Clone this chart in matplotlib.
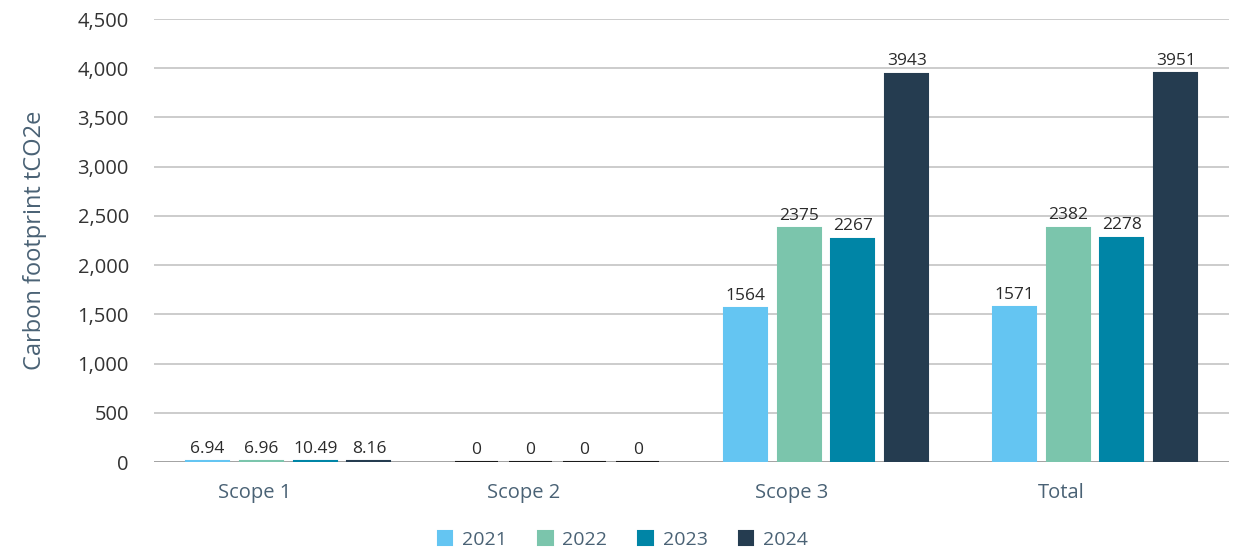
import numpy as np
import matplotlib.pyplot as plt
from matplotlib.transforms import ScaledTranslation

plt.rcParams['font.family'] = ['Open Sans', 'DejaVu Sans']

# emissions per scope, tCO2e
categories = ["Scope 1", "Scope 2", "Scope 3", "Total"]
years = ["2021", "2022", "2023", "2024"]
v2021 = [6.94, 0, 1564, 1571]
v2022 = [6.96, 0, 2375, 2382]
v2023 = [10.49, 0, 2267, 2278]
v2024 = [8.16, 0, 3943, 3951]
labels2021 = ["6.94", "0", "1564", "1571"]
labels2022 = ["6.96", "0", "2375", "2382"]
labels2023 = ["10.49", "0", "2267", "2278"]
labels2024 = ["8.16", "0", "3943", "3951"]

series = [v2021, v2022, v2023, v2024]
series_labels = [labels2021, labels2022, labels2023, labels2024]
colors = ["#64C5F2", "#7BC5AC", "#0085A6", "#253C50"]

fig = plt.figure(figsize=(12.45, 5.51), dpi=100)
ax = fig.add_axes([0.1235, 0.1615, 0.864, 0.804])

x = np.arange(len(categories))
step = 0.2
width = 0.16
for i, (vals, labs, col) in enumerate(zip(series, series_labels, colors)):
    pos = x + (i - 1.5) * step
    edge = [("#1a1a1a" if v == 0 else col) for v in vals]
    ax.bar(pos, vals, width, color=col, edgecolor=edge, linewidth=1.5,
           label=years[i], zorder=3)
    for p, v, t in zip(pos, vals, labs):
        ax.text(p, v + 45, t, ha="center", va="bottom", fontsize=12.5,
                color="#2b2b2b", zorder=4)

ax.set_xlim(-0.5, 3.5)
ax.set_ylim(0, 4500)
ax.set_yticks(np.arange(0, 4501, 500))
ax.set_yticklabels([f"{t:,}" for t in range(0, 4501, 500)])
ax.set_xticks(x)
ax.set_xticklabels(categories)

ax.grid(axis="y", color="#c8c8c8", linewidth=1.3, zorder=0)
ax.axhline(0, color="#a0a0a0", linewidth=1.3, zorder=2)
for s in ax.spines.values():
    s.set_visible(False)

ax.tick_params(axis="y", length=0, pad=18, labelsize=14.5, labelcolor="#333333")
ax.tick_params(axis="x", length=0, pad=15, labelsize=14.5, labelcolor="#4a6275")
# category labels sit a little left of their bar groups
shift = ScaledTranslation(-0.34, 0, fig.dpi_scale_trans)
for lab in ax.get_xticklabels():
    lab.set_transform(lab.get_transform() + shift)

ax.set_ylabel("Carbon footprint tCO2e", fontsize=17, color="#4a6275", labelpad=22)

ax.legend(loc="upper center", bbox_to_anchor=(0.436, -0.125), ncol=4, frameon=False,
          fontsize=14, handlelength=0.75, handleheight=0.75, handletextpad=0.5,
          columnspacing=1.6, labelcolor="#4a6275", borderpad=0.2)

fig.savefig("out.png", dpi=100)
